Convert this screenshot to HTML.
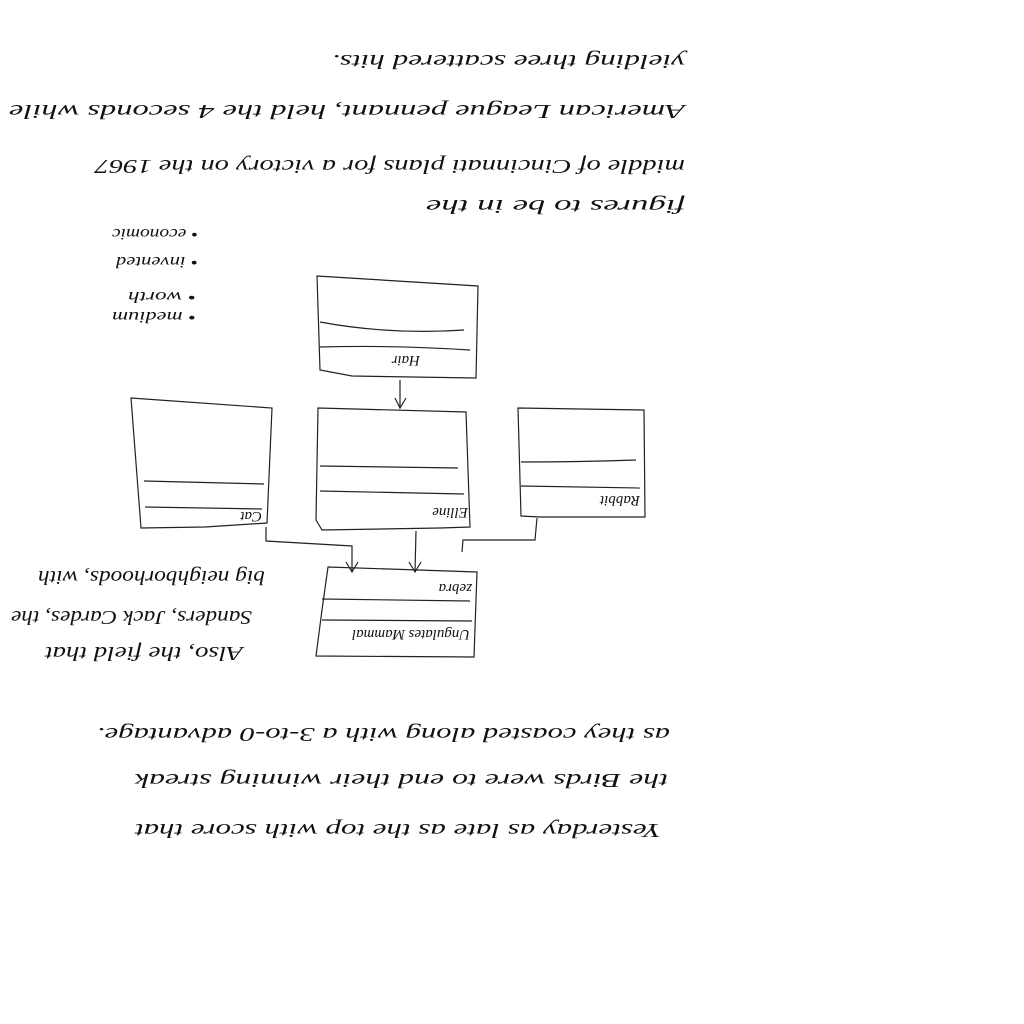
<!DOCTYPE html>
<html><head><meta charset="utf-8"><style>
html,body{margin:0;padding:0;background:#fff;width:1024px;height:1024px;overflow:hidden}
svg text{font-family:"Liberation Serif",serif;font-style:italic;fill:#111}
</style></head><body>
<svg width="1024" height="1024" viewBox="0 0 1024 1024" xmlns="http://www.w3.org/2000/svg">
<g fill="none" stroke="#222" stroke-width="1.2">
<path d="M317,276 L478,286 L476,378 L352,376 L320,370 Z"/>
<path d="M320,322 Q390,335 464,330"/>
<path d="M320,347 Q390,345 470,350"/>
<path d="M400,380 L400,408"/><path d="M395,398 L400,408 L406,398"/>
<path d="M318,408 L466,412 L470,527 L440,528 L322,530 L316,520 Z"/>
<path d="M320,466 L458,468"/>
<path d="M320,491 L464,494"/>
<path d="M131,398 L272,408 L267,523 L205,527 L141,528 Z"/>
<path d="M144,481 L264,484"/>
<path d="M145,507 L262,509"/>
<path d="M518,408 L644,410 L645,517 L540,517 L521,516 Z"/>
<path d="M521,462 Q580,462 636,460"/>
<path d="M521,486 L640,488"/>
<path d="M266,527 L266,541 L352,546 L352,572"/><path d="M346,562 L352,572 L358,562"/>
<path d="M416,531 L415,572"/><path d="M409,562 L415,572 L421,562"/>
<path d="M537,518 L535,540 L463,540 L462,552"/>
<path d="M328,567 L477,572 L474,657 L316,656 L322,610 Z"/>
<path d="M322,599 L470,601"/>
<path d="M322,620 L472,621"/>
</g>
<g font-size="15">
<text transform="translate(420,356) rotate(180)">Hair</text>
<text transform="translate(468,508) rotate(180)">Elline</text>
<text transform="translate(262,512) rotate(180)">Cat</text>
<text transform="translate(640,496) rotate(180)">Rabbit</text>
<text transform="translate(472,584) rotate(180)">zebra</text>
<text transform="translate(470,630) rotate(180)" textLength="118" lengthAdjust="spacingAndGlyphs">Ungulates Mammal</text>
</g>
<g font-size="20">
<text transform="translate(685,55) rotate(180)" textLength="353" lengthAdjust="spacingAndGlyphs">yielding three scattered hits.</text>
<text transform="translate(685,105) rotate(180)" textLength="676" lengthAdjust="spacingAndGlyphs">American League pennant, held the 4 seconds while</text>
<text transform="translate(685,160) rotate(180)" textLength="590" lengthAdjust="spacingAndGlyphs">middle of Cincinnati plans for a victory on the 1967</text>
<text transform="translate(685,200) rotate(180)" textLength="259" lengthAdjust="spacingAndGlyphs">figures to be in the</text>
<text transform="translate(670,728) rotate(180)" textLength="573" lengthAdjust="spacingAndGlyphs">as they coasted along with a 3-to-0 advantage.</text>
<text transform="translate(668,774) rotate(180)" textLength="533" lengthAdjust="spacingAndGlyphs">the Birds were to end their winning streak</text>
<text transform="translate(661,824) rotate(180)" textLength="526" lengthAdjust="spacingAndGlyphs">Yesterday as late as the top with score that</text>
<text transform="translate(265,571) rotate(180)" textLength="227" lengthAdjust="spacingAndGlyphs">big neighborhoods, with</text>
<text transform="translate(252,611) rotate(180)" textLength="241" lengthAdjust="spacingAndGlyphs">Sanders, Jack Cardes, the</text>
<text transform="translate(243,647) rotate(180)" textLength="198" lengthAdjust="spacingAndGlyphs">Also, the field that</text>
</g>
<g font-size="16">
<text transform="translate(198,229) rotate(180)" textLength="86" lengthAdjust="spacingAndGlyphs">• economic</text>
<text transform="translate(198,257) rotate(180)" textLength="82" lengthAdjust="spacingAndGlyphs">• invented</text>
<text transform="translate(196,292) rotate(180)" textLength="68" lengthAdjust="spacingAndGlyphs">• worth</text>
<text transform="translate(196,312) rotate(180)" textLength="84" lengthAdjust="spacingAndGlyphs">• medium</text>
</g>
</svg>
</body></html>
